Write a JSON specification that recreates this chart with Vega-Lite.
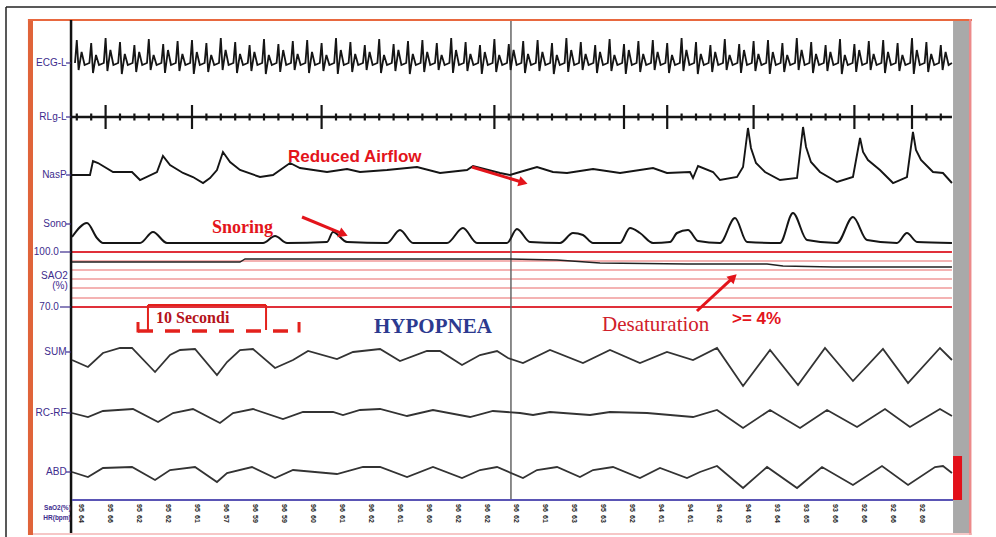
{
"$schema":"https://vega.github.io/schema/vega-lite/v6.json",
"width":996,"height":537,"autosize":"none","padding":0,"background":"white",
"config":{"view":{"stroke":null}},
"datasets":{
"ecg":[{"t":0.25,"y":6.3},{"t":0.4,"y":4.0},{"t":0.55,"y":7.0},{"t":0.8,"y":5.2},{"t":1.05,"y":6.5},
{"t":1.45,"y":6.3},{"t":1.6,"y":4.3},{"t":1.75,"y":7.3},{"t":2.0,"y":5.5},{"t":2.25,"y":6.5},
{"t":2.65,"y":6.3},{"t":2.8,"y":3.8},{"t":2.95,"y":7.1},{"t":3.2,"y":5.0},{"t":3.45,"y":6.5},
{"t":3.85,"y":6.3},{"t":4.0,"y":4.2},{"t":4.15,"y":7.4},{"t":4.4,"y":5.4},{"t":4.65,"y":6.5},
{"t":5.05,"y":6.3},{"t":5.2,"y":4.5},{"t":5.35,"y":7.2},{"t":5.6,"y":5.2},{"t":5.85,"y":6.5},
{"t":6.25,"y":6.3},{"t":6.4,"y":3.9},{"t":6.55,"y":7.0},{"t":6.8,"y":5.5},{"t":7.05,"y":6.5},
{"t":7.45,"y":6.3},{"t":7.6,"y":4.4},{"t":7.75,"y":7.3},{"t":8.0,"y":5.0},{"t":8.25,"y":6.5},
{"t":8.65,"y":6.3},{"t":8.8,"y":4.1},{"t":8.95,"y":7.1},{"t":9.2,"y":5.4},{"t":9.45,"y":6.5},
{"t":9.85,"y":6.3},{"t":10.0,"y":4.0},{"t":10.15,"y":7.4},{"t":10.4,"y":5.2},{"t":10.65,"y":6.5},
{"t":11.05,"y":6.3},{"t":11.2,"y":4.3},{"t":11.35,"y":7.2},{"t":11.6,"y":5.5},{"t":11.85,"y":6.5},
{"t":12.25,"y":6.3},{"t":12.4,"y":3.8},{"t":12.55,"y":7.0},{"t":12.8,"y":5.0},{"t":13.05,"y":6.5},
{"t":13.45,"y":6.3},{"t":13.6,"y":4.2},{"t":13.75,"y":7.3},{"t":14.0,"y":5.4},{"t":14.25,"y":6.5},
{"t":14.65,"y":6.3},{"t":14.8,"y":4.5},{"t":14.95,"y":7.1},{"t":15.2,"y":5.2},{"t":15.45,"y":6.5},
{"t":15.85,"y":6.3},{"t":16.0,"y":3.9},{"t":16.15,"y":7.4},{"t":16.4,"y":5.5},{"t":16.65,"y":6.5},
{"t":17.05,"y":6.3},{"t":17.2,"y":4.4},{"t":17.35,"y":7.2},{"t":17.6,"y":5.0},{"t":17.85,"y":6.5},
{"t":18.25,"y":6.3},{"t":18.4,"y":4.1},{"t":18.55,"y":7.0},{"t":18.8,"y":5.4},{"t":19.05,"y":6.5},
{"t":19.45,"y":6.3},{"t":19.6,"y":4.0},{"t":19.75,"y":7.3},{"t":20.0,"y":5.2},{"t":20.25,"y":6.5},
{"t":20.65,"y":6.3},{"t":20.8,"y":4.3},{"t":20.95,"y":7.1},{"t":21.2,"y":5.5},{"t":21.45,"y":6.5},
{"t":21.85,"y":6.3},{"t":22.0,"y":3.8},{"t":22.15,"y":7.4},{"t":22.4,"y":5.0},{"t":22.65,"y":6.5},
{"t":23.05,"y":6.3},{"t":23.2,"y":4.2},{"t":23.35,"y":7.2},{"t":23.6,"y":5.4},{"t":23.85,"y":6.5},
{"t":24.25,"y":6.3},{"t":24.4,"y":4.5},{"t":24.55,"y":7.0},{"t":24.8,"y":5.2},{"t":25.05,"y":6.5},
{"t":25.45,"y":6.3},{"t":25.6,"y":3.9},{"t":25.75,"y":7.3},{"t":26.0,"y":5.5},{"t":26.25,"y":6.5},
{"t":26.65,"y":6.3},{"t":26.8,"y":4.4},{"t":26.95,"y":7.1},{"t":27.2,"y":5.0},{"t":27.45,"y":6.5},
{"t":27.85,"y":6.3},{"t":28.0,"y":4.1},{"t":28.15,"y":7.4},{"t":28.4,"y":5.4},{"t":28.65,"y":6.5},
{"t":29.05,"y":6.3},{"t":29.2,"y":4.0},{"t":29.35,"y":7.2},{"t":29.6,"y":5.2},{"t":29.85,"y":6.5},
{"t":30.25,"y":6.3},{"t":30.4,"y":4.3},{"t":30.55,"y":7.0},{"t":30.8,"y":5.5},{"t":31.05,"y":6.5},
{"t":31.45,"y":6.3},{"t":31.6,"y":3.8},{"t":31.75,"y":7.3},{"t":32.0,"y":5.0},{"t":32.25,"y":6.5},
{"t":32.65,"y":6.3},{"t":32.8,"y":4.2},{"t":32.95,"y":7.1},{"t":33.2,"y":5.4},{"t":33.45,"y":6.5},
{"t":33.85,"y":6.3},{"t":34.0,"y":4.5},{"t":34.15,"y":7.4},{"t":34.4,"y":5.2},{"t":34.65,"y":6.5},
{"t":35.05,"y":6.3},{"t":35.2,"y":3.9},{"t":35.35,"y":7.2},{"t":35.6,"y":5.5},{"t":35.85,"y":6.5},
{"t":36.25,"y":6.3},{"t":36.4,"y":4.4},{"t":36.55,"y":7.0},{"t":36.8,"y":5.0},{"t":37.05,"y":6.5},
{"t":37.45,"y":6.3},{"t":37.6,"y":4.1},{"t":37.75,"y":7.3},{"t":38.0,"y":5.4},{"t":38.25,"y":6.5},
{"t":38.65,"y":6.3},{"t":38.8,"y":4.0},{"t":38.95,"y":7.1},{"t":39.2,"y":5.2},{"t":39.45,"y":6.5},
{"t":39.85,"y":6.3},{"t":40.0,"y":4.3},{"t":40.15,"y":7.4},{"t":40.4,"y":5.5},{"t":40.65,"y":6.5},
{"t":41.05,"y":6.3},{"t":41.2,"y":3.8},{"t":41.35,"y":7.2},{"t":41.6,"y":5.0},{"t":41.85,"y":6.5},
{"t":42.25,"y":6.3},{"t":42.4,"y":4.2},{"t":42.55,"y":7.0},{"t":42.8,"y":5.4},{"t":43.05,"y":6.5},
{"t":43.45,"y":6.3},{"t":43.6,"y":4.5},{"t":43.75,"y":7.3},{"t":44.0,"y":5.2},{"t":44.25,"y":6.5},
{"t":44.65,"y":6.3},{"t":44.8,"y":3.9},{"t":44.95,"y":7.1},{"t":45.2,"y":5.5},{"t":45.45,"y":6.5},
{"t":45.85,"y":6.3},{"t":46.0,"y":4.4},{"t":46.15,"y":7.4},{"t":46.4,"y":5.0},{"t":46.65,"y":6.5},
{"t":47.05,"y":6.3},{"t":47.2,"y":4.1},{"t":47.35,"y":7.2},{"t":47.6,"y":5.4},{"t":47.85,"y":6.5},
{"t":48.25,"y":6.3},{"t":48.4,"y":4.0},{"t":48.55,"y":7.0},{"t":48.8,"y":5.2},{"t":49.05,"y":6.5},
{"t":49.45,"y":6.3},{"t":49.6,"y":4.3},{"t":49.75,"y":7.3},{"t":50.0,"y":5.5},{"t":50.25,"y":6.5},
{"t":50.65,"y":6.3},{"t":50.8,"y":3.8},{"t":50.95,"y":7.1},{"t":51.2,"y":5.0},{"t":51.45,"y":6.5},
{"t":51.85,"y":6.3},{"t":52.0,"y":4.2},{"t":52.15,"y":7.4},{"t":52.4,"y":5.4},{"t":52.65,"y":6.5},
{"t":53.05,"y":6.3},{"t":53.2,"y":4.5},{"t":53.35,"y":7.2},{"t":53.6,"y":5.2},{"t":53.85,"y":6.5},
{"t":54.25,"y":6.3},{"t":54.4,"y":3.9},{"t":54.55,"y":7.0},{"t":54.8,"y":5.5},{"t":55.05,"y":6.5},
{"t":55.45,"y":6.3},{"t":55.6,"y":4.4},{"t":55.75,"y":7.3},{"t":56.0,"y":5.0},{"t":56.25,"y":6.5},
{"t":56.65,"y":6.3},{"t":56.8,"y":4.1},{"t":56.95,"y":7.1},{"t":57.2,"y":5.4},{"t":57.45,"y":6.5},
{"t":57.85,"y":6.3},{"t":58.0,"y":4.0},{"t":58.15,"y":7.4},{"t":58.4,"y":5.2},{"t":58.65,"y":6.5},
{"t":59.05,"y":6.3},{"t":59.2,"y":4.3},{"t":59.35,"y":7.2},{"t":59.6,"y":5.5},{"t":59.85,"y":6.5},
{"t":60.25,"y":6.3},{"t":60.4,"y":3.8},{"t":60.55,"y":7.0},{"t":60.8,"y":5.0},{"t":61.05,"y":6.5},
{"t":61.45,"y":6.3},{"t":61.6,"y":4.2},{"t":61.75,"y":7.3},{"t":62.0,"y":5.4},{"t":62.25,"y":6.5},
{"t":62.65,"y":6.3},{"t":62.8,"y":4.5},{"t":62.95,"y":7.1},{"t":63.2,"y":5.2},{"t":63.45,"y":6.5},
{"t":63.85,"y":6.3},{"t":64.0,"y":3.9},{"t":64.15,"y":7.4},{"t":64.4,"y":5.5},{"t":64.65,"y":6.5},
{"t":65.05,"y":6.3},{"t":65.2,"y":4.4},{"t":65.35,"y":7.2},{"t":65.6,"y":5.0},{"t":65.85,"y":6.5},
{"t":66.25,"y":6.3},{"t":66.4,"y":4.1},{"t":66.55,"y":7.0},{"t":66.8,"y":5.4},{"t":67.05,"y":6.5},
{"t":67.45,"y":6.3},{"t":67.6,"y":4.0},{"t":67.75,"y":7.3},{"t":68.0,"y":5.2},{"t":68.25,"y":6.5},
{"t":68.65,"y":6.3},{"t":68.8,"y":4.3},{"t":68.95,"y":7.1},{"t":69.2,"y":5.5},{"t":69.45,"y":6.5},
{"t":69.85,"y":6.3},{"t":70.0,"y":3.8},{"t":70.15,"y":7.4},{"t":70.4,"y":5.0},{"t":70.65,"y":6.5},
{"t":71.05,"y":6.3},{"t":71.2,"y":4.2},{"t":71.35,"y":7.2},{"t":71.6,"y":5.4},{"t":71.85,"y":6.5},
{"t":72.25,"y":6.3},{"t":72.4,"y":4.5},{"t":72.55,"y":7.0},{"t":72.8,"y":5.2},{"t":73.05,"y":6.5},
{"t":73.33,"y":6.3}],
"rlg":[{"t":0.4,"y":11.35,"y2":12.05},{"t":1.6,"y":11.35,"y2":12.05},{"t":2.8,"y":10.5,"y2":12.9},{"t":4.0,"y":11.35,"y2":12.05},{"t":5.2,"y":11.35,"y2":12.05},{"t":6.4,"y":11.35,"y2":12.05},{"t":7.6,"y":11.35,"y2":12.05},{"t":8.8,"y":11.35,"y2":12.05},{"t":10.0,"y":10.5,"y2":12.9},{"t":11.2,"y":11.35,"y2":12.05},{"t":12.4,"y":11.35,"y2":12.05},{"t":13.6,"y":11.35,"y2":12.05},{"t":14.8,"y":11.35,"y2":12.05},{"t":16.0,"y":11.35,"y2":12.05},{"t":17.2,"y":11.35,"y2":12.05},{"t":18.4,"y":11.35,"y2":12.05},{"t":19.6,"y":11.35,"y2":12.05},{"t":20.8,"y":10.5,"y2":12.9},{"t":22.0,"y":11.35,"y2":12.05},{"t":23.2,"y":11.35,"y2":12.05},{"t":24.4,"y":11.35,"y2":12.05},{"t":25.6,"y":11.35,"y2":12.05},{"t":26.8,"y":11.35,"y2":12.05},{"t":28.0,"y":11.35,"y2":12.05},{"t":29.2,"y":11.35,"y2":12.05},{"t":30.4,"y":11.35,"y2":12.05},{"t":31.6,"y":11.35,"y2":12.05},{"t":32.8,"y":11.35,"y2":12.05},{"t":34.0,"y":11.35,"y2":12.05},{"t":35.2,"y":10.5,"y2":12.9},{"t":36.4,"y":11.35,"y2":12.05},{"t":37.6,"y":11.35,"y2":12.05},{"t":38.8,"y":11.35,"y2":12.05},{"t":40.0,"y":11.35,"y2":12.05},{"t":41.2,"y":11.35,"y2":12.05},{"t":42.4,"y":11.35,"y2":12.05},{"t":43.6,"y":11.35,"y2":12.05},{"t":44.8,"y":11.35,"y2":12.05},{"t":46.0,"y":10.5,"y2":12.9},{"t":47.2,"y":11.35,"y2":12.05},{"t":48.4,"y":11.35,"y2":12.05},{"t":49.6,"y":10.5,"y2":12.9},{"t":50.8,"y":11.35,"y2":12.05},{"t":52.0,"y":11.35,"y2":12.05},{"t":53.2,"y":11.35,"y2":12.05},{"t":54.4,"y":11.35,"y2":12.05},{"t":55.6,"y":11.35,"y2":12.05},{"t":56.8,"y":10.5,"y2":12.9},{"t":58.0,"y":11.35,"y2":12.05},{"t":59.2,"y":11.35,"y2":12.05},{"t":60.4,"y":11.35,"y2":12.05},{"t":61.6,"y":11.35,"y2":12.05},{"t":62.8,"y":11.35,"y2":12.05},{"t":64.0,"y":11.35,"y2":12.05},{"t":65.2,"y":10.5,"y2":12.9},{"t":66.4,"y":11.35,"y2":12.05},{"t":67.6,"y":11.35,"y2":12.05},{"t":68.8,"y":11.35,"y2":12.05},{"t":70.0,"y":10.5,"y2":12.9},{"t":71.2,"y":11.35,"y2":12.05},{"t":72.4,"y":11.35,"y2":12.05}],
"nasp":[{"t":0.0,"y":17.5},{"t":1.5,"y":17.5},{"t":1.75,"y":16.1},{"t":2.17,"y":16.3},{"t":3.42,"y":17.2},{"t":5.0,"y":17.2},{"t":5.67,"y":18.0},{"t":7.08,"y":17.2},{"t":7.58,"y":15.6},{"t":8.17,"y":16.5},{"t":9.25,"y":17.3},{"t":10.08,"y":17.7},{"t":10.92,"y":18.3},{"t":11.5,"y":17.8},{"t":12.08,"y":17.0},{"t":12.58,"y":15.2},{"t":13.17,"y":16.2},{"t":14.0,"y":17.0},{"t":15.67,"y":17.7},{"t":16.75,"y":17.5},{"t":18.17,"y":16.3},{"t":19.0,"y":16.8},{"t":21.25,"y":17.2},{"t":22.92,"y":16.9},{"t":24.0,"y":17.2},{"t":26.25,"y":17.0},{"t":28.75,"y":16.7},{"t":30.67,"y":17.3},{"t":32.92,"y":17.0},{"t":33.42,"y":16.6},{"t":35.67,"y":17.3},{"t":36.5,"y":17.5},{"t":37.33,"y":17.2},{"t":38.75,"y":16.7},{"t":40.08,"y":17.2},{"t":41.25,"y":17.3},{"t":43.42,"y":16.9},{"t":45.67,"y":17.3},{"t":48.42,"y":16.8},{"t":49.58,"y":17.3},{"t":51.5,"y":17.2},{"t":51.75,"y":17.8},{"t":52.17,"y":16.6},{"t":53.42,"y":17.2},{"t":54.0,"y":18.0},{"t":55.42,"y":17.7},{"t":55.92,"y":16.7},{"t":56.33,"y":12.8},{"t":56.58,"y":14.8},{"t":57.0,"y":16.3},{"t":57.75,"y":17.2},{"t":59.0,"y":18.0},{"t":60.42,"y":17.8},{"t":60.92,"y":12.7},{"t":61.17,"y":14.7},{"t":61.58,"y":16.2},{"t":62.33,"y":17.2},{"t":63.75,"y":18.2},{"t":65.08,"y":17.7},{"t":65.67,"y":13.8},{"t":65.92,"y":15.2},{"t":66.33,"y":16.0},{"t":67.33,"y":17.0},{"t":68.42,"y":18.3},{"t":69.58,"y":17.7},{"t":70.08,"y":13.2},{"t":70.33,"y":15.0},{"t":70.75,"y":16.0},{"t":71.75,"y":17.2},{"t":72.58,"y":17.3},{"t":73.33,"y":18.3}],
"sono":[{"t":0.0,"y":23.7},{"t":1.25,"y":22.3},{"t":2.08,"y":23.8},{"t":2.58,"y":24.3},{"t":5.67,"y":24.3},{"t":6.75,"y":23.2},{"t":7.92,"y":24.3},{"t":15.92,"y":24.3},{"t":16.92,"y":23.6},{"t":17.92,"y":24.3},{"t":21.25,"y":24.2},{"t":21.75,"y":23.2},{"t":22.92,"y":24.2},{"t":26.25,"y":24.3},{"t":27.33,"y":23.0},{"t":28.42,"y":24.3},{"t":31.25,"y":24.3},{"t":32.58,"y":22.8},{"t":33.75,"y":24.3},{"t":36.25,"y":24.3},{"t":37.08,"y":22.9},{"t":38.17,"y":24.2},{"t":40.67,"y":24.3},{"t":41.75,"y":23.3},{"t":42.58,"y":23.5},{"t":43.42,"y":24.3},{"t":45.67,"y":24.3},{"t":46.5,"y":22.8},{"t":47.33,"y":23.3},{"t":48.42,"y":24.3},{"t":49.83,"y":24.2},{"t":50.42,"y":23.3},{"t":51.33,"y":23.0},{"t":52.17,"y":24.1},{"t":54.0,"y":24.3},{"t":55.25,"y":21.8},{"t":56.25,"y":24.2},{"t":59.0,"y":24.3},{"t":60.08,"y":21.3},{"t":61.25,"y":24.0},{"t":63.75,"y":24.3},{"t":65.08,"y":21.7},{"t":66.25,"y":24.0},{"t":68.75,"y":24.3},{"t":69.58,"y":23.3},{"t":70.42,"y":24.2},{"t":73.33,"y":24.3}],
"sao2":[{"t":0.0,"y":26.2},{"t":14.0,"y":26.2},{"t":14.42,"y":25.9},{"t":36.5,"y":25.9},{"t":40.42,"y":26.0},{"t":44.0,"y":26.3},{"t":51.25,"y":26.4},{"t":57.92,"y":26.4},{"t":59.25,"y":26.6},{"t":63.42,"y":26.7},{"t":73.33,"y":26.7}],
"sum":[{"t":0.0,"y":36.0},{"t":1.33,"y":36.7},{"t":2.58,"y":35.3},{"t":4.0,"y":34.8},{"t":5.0,"y":34.8},{"t":6.92,"y":37.2},{"t":8.17,"y":35.5},{"t":9.0,"y":35.0},{"t":10.25,"y":34.9},{"t":12.08,"y":37.5},{"t":12.92,"y":36.2},{"t":14.0,"y":35.0},{"t":15.08,"y":34.9},{"t":16.92,"y":36.8},{"t":18.42,"y":36.0},{"t":19.67,"y":35.1},{"t":22.08,"y":35.9},{"t":23.42,"y":35.2},{"t":25.67,"y":34.9},{"t":27.33,"y":36.1},{"t":29.58,"y":35.1},{"t":30.67,"y":35.1},{"t":32.5,"y":36.5},{"t":34.0,"y":35.5},{"t":35.42,"y":35.1},{"t":36.33,"y":35.8},{"t":37.58,"y":36.3},{"t":39.83,"y":35.0},{"t":42.58,"y":36.3},{"t":44.83,"y":35.0},{"t":47.33,"y":36.3},{"t":49.58,"y":35.2},{"t":51.75,"y":36.0},{"t":53.75,"y":34.8},{"t":55.92,"y":38.6},{"t":58.17,"y":35.0},{"t":60.5,"y":38.5},{"t":62.75,"y":34.8},{"t":65.08,"y":38.1},{"t":67.58,"y":34.9},{"t":69.67,"y":38.3},{"t":72.33,"y":34.8},{"t":73.33,"y":36.0}],
"rc":[{"t":0.0,"y":41.3},{"t":1.33,"y":41.7},{"t":2.58,"y":41.1},{"t":5.08,"y":40.9},{"t":7.17,"y":42.2},{"t":8.42,"y":41.3},{"t":10.08,"y":40.9},{"t":12.33,"y":42.3},{"t":13.42,"y":41.3},{"t":15.08,"y":40.9},{"t":17.58,"y":41.9},{"t":19.25,"y":41.2},{"t":21.75,"y":41.2},{"t":22.58,"y":41.5},{"t":24.0,"y":41.0},{"t":25.67,"y":40.9},{"t":27.92,"y":41.6},{"t":30.08,"y":41.0},{"t":33.17,"y":41.7},{"t":35.08,"y":41.1},{"t":37.33,"y":41.3},{"t":38.42,"y":41.5},{"t":39.83,"y":41.2},{"t":43.17,"y":41.5},{"t":44.83,"y":41.2},{"t":47.92,"y":41.3},{"t":51.75,"y":41.7},{"t":53.75,"y":41.0},{"t":55.92,"y":42.8},{"t":58.17,"y":41.0},{"t":60.67,"y":42.8},{"t":62.92,"y":41.0},{"t":65.42,"y":42.7},{"t":67.75,"y":40.9},{"t":69.83,"y":42.7},{"t":72.33,"y":40.9},{"t":73.33,"y":41.6}],
"abd":[{"t":0.0,"y":47.2},{"t":1.33,"y":47.7},{"t":2.58,"y":46.8},{"t":5.0,"y":46.7},{"t":6.92,"y":48.0},{"t":8.17,"y":47.0},{"t":10.25,"y":46.7},{"t":12.08,"y":48.2},{"t":12.92,"y":47.3},{"t":15.0,"y":46.7},{"t":16.92,"y":47.8},{"t":18.42,"y":47.0},{"t":22.08,"y":47.4},{"t":24.25,"y":46.7},{"t":25.67,"y":46.7},{"t":27.92,"y":47.7},{"t":30.08,"y":46.7},{"t":32.5,"y":47.8},{"t":34.0,"y":47.0},{"t":35.42,"y":46.7},{"t":37.58,"y":47.8},{"t":38.75,"y":47.0},{"t":40.42,"y":46.7},{"t":42.33,"y":47.7},{"t":43.42,"y":47.0},{"t":45.08,"y":46.7},{"t":47.33,"y":47.8},{"t":49.0,"y":46.8},{"t":51.25,"y":47.8},{"t":52.33,"y":47.2},{"t":53.75,"y":46.6},{"t":55.92,"y":48.8},{"t":57.92,"y":46.7},{"t":60.42,"y":48.8},{"t":62.5,"y":46.7},{"t":65.08,"y":48.5},{"t":67.5,"y":46.6},{"t":69.67,"y":48.5},{"t":71.92,"y":46.7},{"t":72.58,"y":46.6},{"t":73.33,"y":47.3}],
"nums":[{"t":0.75,"y":50.8,"v":"95"},{"t":0.75,"y":51.9,"v":"64"},{"t":3.17,"y":50.8,"v":"95"},{"t":3.17,"y":51.9,"v":"66"},{"t":5.58,"y":50.8,"v":"95"},{"t":5.58,"y":51.9,"v":"62"},{"t":8.0,"y":50.8,"v":"95"},{"t":8.0,"y":51.9,"v":"62"},{"t":10.42,"y":50.8,"v":"95"},{"t":10.42,"y":51.9,"v":"61"},{"t":12.83,"y":50.8,"v":"96"},{"t":12.83,"y":51.9,"v":"57"},{"t":15.25,"y":50.8,"v":"96"},{"t":15.25,"y":51.9,"v":"59"},{"t":17.67,"y":50.8,"v":"96"},{"t":17.67,"y":51.9,"v":"59"},{"t":20.08,"y":50.8,"v":"96"},{"t":20.08,"y":51.9,"v":"60"},{"t":22.5,"y":50.8,"v":"96"},{"t":22.5,"y":51.9,"v":"61"},{"t":24.92,"y":50.8,"v":"96"},{"t":24.92,"y":51.9,"v":"62"},{"t":27.33,"y":50.8,"v":"96"},{"t":27.33,"y":51.9,"v":"61"},{"t":29.75,"y":50.8,"v":"96"},{"t":29.75,"y":51.9,"v":"60"},{"t":32.17,"y":50.8,"v":"96"},{"t":32.17,"y":51.9,"v":"62"},{"t":34.58,"y":50.8,"v":"96"},{"t":34.58,"y":51.9,"v":"62"},{"t":37.0,"y":50.8,"v":"96"},{"t":37.0,"y":51.9,"v":"62"},{"t":39.42,"y":50.8,"v":"96"},{"t":39.42,"y":51.9,"v":"61"},{"t":41.83,"y":50.8,"v":"95"},{"t":41.83,"y":51.9,"v":"63"},{"t":44.25,"y":50.8,"v":"95"},{"t":44.25,"y":51.9,"v":"63"},{"t":46.67,"y":50.8,"v":"95"},{"t":46.67,"y":51.9,"v":"62"},{"t":49.08,"y":50.8,"v":"94"},{"t":49.08,"y":51.9,"v":"61"},{"t":51.5,"y":50.8,"v":"94"},{"t":51.5,"y":51.9,"v":"61"},{"t":53.92,"y":50.8,"v":"94"},{"t":53.92,"y":51.9,"v":"62"},{"t":56.33,"y":50.8,"v":"94"},{"t":56.33,"y":51.9,"v":"63"},{"t":58.75,"y":50.8,"v":"93"},{"t":58.75,"y":51.9,"v":"64"},{"t":61.17,"y":50.8,"v":"93"},{"t":61.17,"y":51.9,"v":"65"},{"t":63.58,"y":50.8,"v":"93"},{"t":63.58,"y":51.9,"v":"66"},{"t":66.0,"y":50.8,"v":"92"},{"t":66.0,"y":51.9,"v":"66"},{"t":68.42,"y":50.8,"v":"92"},{"t":68.42,"y":51.9,"v":"66"},{"t":70.83,"y":50.8,"v":"92"},{"t":70.83,"y":51.9,"v":"69"}],
"labs":[{"t":-0.45,"y":6.3,"txt":"ECG-L"},{"t":-0.45,"y":11.7,"txt":"RLg-L"},{"t":-0.45,"y":17.5,"txt":"NasP"},{"t":-0.45,"y":22.4,"txt":"Sono"},{"t":-1.1,"y":25.2,"txt":"100.0"},{"t":-0.35,"y":27.6,"txt":"SAO2"},{"t":-0.35,"y":28.6,"txt":"(%)"},{"t":-1.1,"y":30.7,"txt":"70.0"},{"t":-0.45,"y":35.2,"txt":"SUM"},{"t":-0.45,"y":41.3,"txt":"RC-RF"},{"t":-0.45,"y":47.2,"txt":"ABD"}],
"ticks":[{"t":-0.5,"t2":-0.1,"y":6.3},{"t":-0.5,"t2":-0.1,"y":11.7},{"t":-0.5,"t2":-0.1,"y":17.5},{"t":-0.5,"t2":-0.1,"y":22.4},{"t":-1.0,"t2":-0.1,"y":25.2},{"t":-1.0,"t2":-0.1,"y":30.7},{"t":-0.5,"t2":-0.1,"y":35.2},{"t":-0.5,"t2":-0.1,"y":41.3},{"t":-0.5,"t2":-0.1,"y":47.2}],
"gridThin":[{"t":0,"t2":73.33,"y":26.1},{"t":0,"t2":73.33,"y":27.0},{"t":0,"t2":73.33,"y":27.9},{"t":0,"t2":73.33,"y":28.8},{"t":0,"t2":73.33,"y":29.8}],
"gridThick":[{"t":0,"t2":73.33,"y":25.2},{"t":0,"t2":73.33,"y":30.7}]
},
"encoding":{
"x":{"field":"t","type":"quantitative","scale":{"domain":[-6,77],"nice":false,"zero":false},"axis":null},
"y":{"field":"y","type":"quantitative","scale":{"domain":[0,53.7],"reverse":true,"nice":false,"zero":false},"axis":null}
},
"layer":[
{"data":{"values":[{"t":-3.67,"t2":-3.25,"y":1.9,"y2":53.5}]},"mark":{"type":"rect","color":"#e0643a"},"encoding":{"x2":{"field":"t2"},"y2":{"field":"y2"}}},
{"data":{"values":[{"t":73.42,"t2":74.75,"y":2.1,"y2":53.3}]},"mark":{"type":"rect","color":"#a9a9a9"},"encoding":{"x2":{"field":"t2"},"y2":{"field":"y2"}}},
{"data":{"values":[{"t":73.42,"t2":74.17,"y":45.6,"y2":50.0}]},"mark":{"type":"rect","color":"#e3101a"},"encoding":{"x2":{"field":"t2"},"y2":{"field":"y2"}}},
{"data":{"values":[{"t":-5.5,"t2":77,"y":0.7}]},"mark":{"type":"rule","color":"#222","strokeWidth":1.5},"encoding":{"x2":{"field":"t2"}}},
{"data":{"values":[{"t":-5.5,"y":0.7,"y2":53.7}]},"mark":{"type":"rule","color":"#222","strokeWidth":1.5},"encoding":{"y2":{"field":"y2"}}},
{"data":{"values":[{"t":-3.67,"t2":75.0,"y":2.0}]},"mark":{"type":"rule","color":"#e8683f","strokeWidth":2.2},"encoding":{"x2":{"field":"t2"}}},
{"data":{"values":[{"t":74.85,"y":1.9,"y2":53.5}]},"mark":{"type":"rule","color":"#ec8a8a","strokeWidth":2.5},"encoding":{"y2":{"field":"y2"}}},
{"data":{"values":[{"t":-3.25,"t2":75.0,"y":53.4}]},"mark":{"type":"rule","color":"#f3b5b5","strokeWidth":1.5},"encoding":{"x2":{"field":"t2"}}},
{"data":{"name":"gridThin"},"mark":{"type":"rule","color":"#f09a9a","strokeWidth":1.3},"encoding":{"x2":{"field":"t2"}}},
{"data":{"name":"gridThick"},"mark":{"type":"rule","color":"#e0303a","strokeWidth":2},"encoding":{"x2":{"field":"t2"}}},
{"data":{"values":[{"t":36.58,"y":2.1,"y2":50.0}]},"mark":{"type":"rule","color":"#666","strokeWidth":1.5},"encoding":{"y2":{"field":"y2"}}},
{"data":{"values":[{"t":-0.08,"y":2.0,"y2":53.3}]},"mark":{"type":"rule","color":"#111","strokeWidth":2.5},"encoding":{"y2":{"field":"y2"}}},
{"data":{"values":[{"t":0,"t2":73.42,"y":50.0}]},"mark":{"type":"rule","color":"#5a55b5","strokeWidth":2},"encoding":{"x2":{"field":"t2"}}},
{"data":{"name":"ecg"},"mark":{"type":"line","color":"#151515","strokeWidth":1.8},"encoding":{}},
{"data":{"values":[{"t":0,"t2":73.33,"y":11.7}]},"mark":{"type":"rule","color":"#151515","strokeWidth":2.5},"encoding":{"x2":{"field":"t2"}}},
{"data":{"name":"rlg"},"mark":{"type":"rule","color":"#151515","strokeWidth":2.2},"encoding":{"y2":{"field":"y2"}}},
{"data":{"name":"nasp"},"mark":{"type":"line","color":"#151515","strokeWidth":1.9},"encoding":{}},
{"data":{"name":"sono"},"mark":{"type":"line","color":"#151515","strokeWidth":2,"interpolate":"monotone"},"encoding":{}},
{"data":{"name":"sao2"},"mark":{"type":"line","color":"#222","strokeWidth":1.4},"encoding":{}},
{"data":{"name":"sum"},"mark":{"type":"line","color":"#333","strokeWidth":1.8},"encoding":{}},
{"data":{"name":"rc"},"mark":{"type":"line","color":"#333","strokeWidth":1.8},"encoding":{}},
{"data":{"name":"abd"},"mark":{"type":"line","color":"#333","strokeWidth":1.8},"encoding":{}},
{"data":{"name":"ticks"},"mark":{"type":"rule","color":"#3d2c8d","strokeWidth":1.2},"encoding":{"x2":{"field":"t2"}}},
{"data":{"name":"labs"},"mark":{"type":"text","align":"right","font":"Liberation Sans","fontSize":10,"color":"#3d2c8d"},"encoding":{"text":{"field":"txt"}}},
{"data":{"values":[{"t":-0.1,"y":50.75,"txt":"SaO2(%)"},{"t":-0.1,"y":51.75,"txt":"HR(bpm)"}]},"mark":{"type":"text","align":"right","font":"Liberation Sans","fontSize":6.5,"fontWeight":"bold","color":"#3d2c8d"},"encoding":{"text":{"field":"txt"}}},
{"data":{"name":"nums"},"mark":{"type":"text","angle":90,"font":"Liberation Sans","fontSize":7,"fontWeight":"bold","color":"#222"},"encoding":{"text":{"field":"v"}}},
{"data":{"values":[{"t":6.33,"t2":16.17,"y":30.5}]},"mark":{"type":"rule","color":"#e3211c","strokeWidth":2},"encoding":{"x2":{"field":"t2"}}},
{"data":{"values":[{"t":6.33,"y":30.5,"y2":33.0},{"t":16.17,"y":30.5,"y2":33.0}]},"mark":{"type":"rule","color":"#e3211c","strokeWidth":2},"encoding":{"y2":{"field":"y2"}}},
{"data":{"values":[{"t":5.5,"t2":19.0,"y":33.1}]},"mark":{"type":"rule","color":"#e3211c","strokeWidth":3.5,"strokeDash":[15,12]},"encoding":{"x2":{"field":"t2"}}},
{"data":{"values":[{"t":5.5,"y":32.2,"y2":33.25},{"t":18.92,"y":32.2,"y2":33.25}]},"mark":{"type":"rule","color":"#e3211c","strokeWidth":3},"encoding":{"y2":{"field":"y2"}}},
{"data":{"values":[{"t":7.0,"y":31.8,"txt":"10 Secondi"}]},"mark":{"type":"text","align":"left","font":"Liberation Serif","fontWeight":"bold","fontSize":16,"color":"#b5121b"},"encoding":{"text":{"field":"txt"}}},
{"data":{"values":[{"t":18.0,"y":15.7,"txt":"Reduced Airflow"}]},"mark":{"type":"text","align":"left","font":"Liberation Sans","fontWeight":"bold","fontSize":17,"color":"#e3141b"},"encoding":{"text":{"field":"txt"}}},
{"data":{"values":[{"t":11.67,"y":22.8,"txt":"Snoring"}]},"mark":{"type":"text","align":"left","font":"Liberation Serif","fontWeight":"bold","fontSize":18,"color":"#e3141b"},"encoding":{"text":{"field":"txt"}}},
{"data":{"values":[{"t":25.17,"y":32.65,"txt":"HYPOPNEA"}]},"mark":{"type":"text","align":"left","font":"Liberation Serif","fontWeight":"bold","fontSize":21,"color":"#2c3a8f"},"encoding":{"text":{"field":"txt"}}},
{"data":{"values":[{"t":44.17,"y":32.5,"txt":"Desaturation"}]},"mark":{"type":"text","align":"left","font":"Liberation Serif","fontSize":21,"color":"#d0202a"},"encoding":{"text":{"field":"txt"}}},
{"data":{"values":[{"t":55.0,"y":31.9,"txt":">= 4%"}]},"mark":{"type":"text","align":"left","font":"Liberation Sans","fontWeight":"bold","fontSize":17,"color":"#e3141b"},"encoding":{"text":{"field":"txt"}}},
{"data":{"values":[{"t":33.33,"t2":37.6,"y":16.7,"y2":18.25},{"t":19.17,"t2":22.62,"y":21.7,"y2":23.41},{"t":52.08,"t2":55.11,"y":31.1,"y2":27.74}]},"mark":{"type":"rule","color":"#e3141b","strokeWidth":3},"encoding":{"x2":{"field":"t2"},"y2":{"field":"y2"}}},
{"data":{"values":[{"t":37.6,"y":18.25}]},"mark":{"type":"point","shape":"triangle-up","filled":true,"opacity":1,"size":110,"angle":107,"color":"#e3141b"},"encoding":{}},
{"data":{"values":[{"t":22.62,"y":23.41}]},"mark":{"type":"point","shape":"triangle-up","filled":true,"opacity":1,"size":110,"angle":112,"color":"#e3141b"},"encoding":{}},
{"data":{"values":[{"t":55.11,"y":27.74}]},"mark":{"type":"point","shape":"triangle-up","filled":true,"opacity":1,"size":110,"angle":47,"color":"#e3141b"},"encoding":{}}
]
}
